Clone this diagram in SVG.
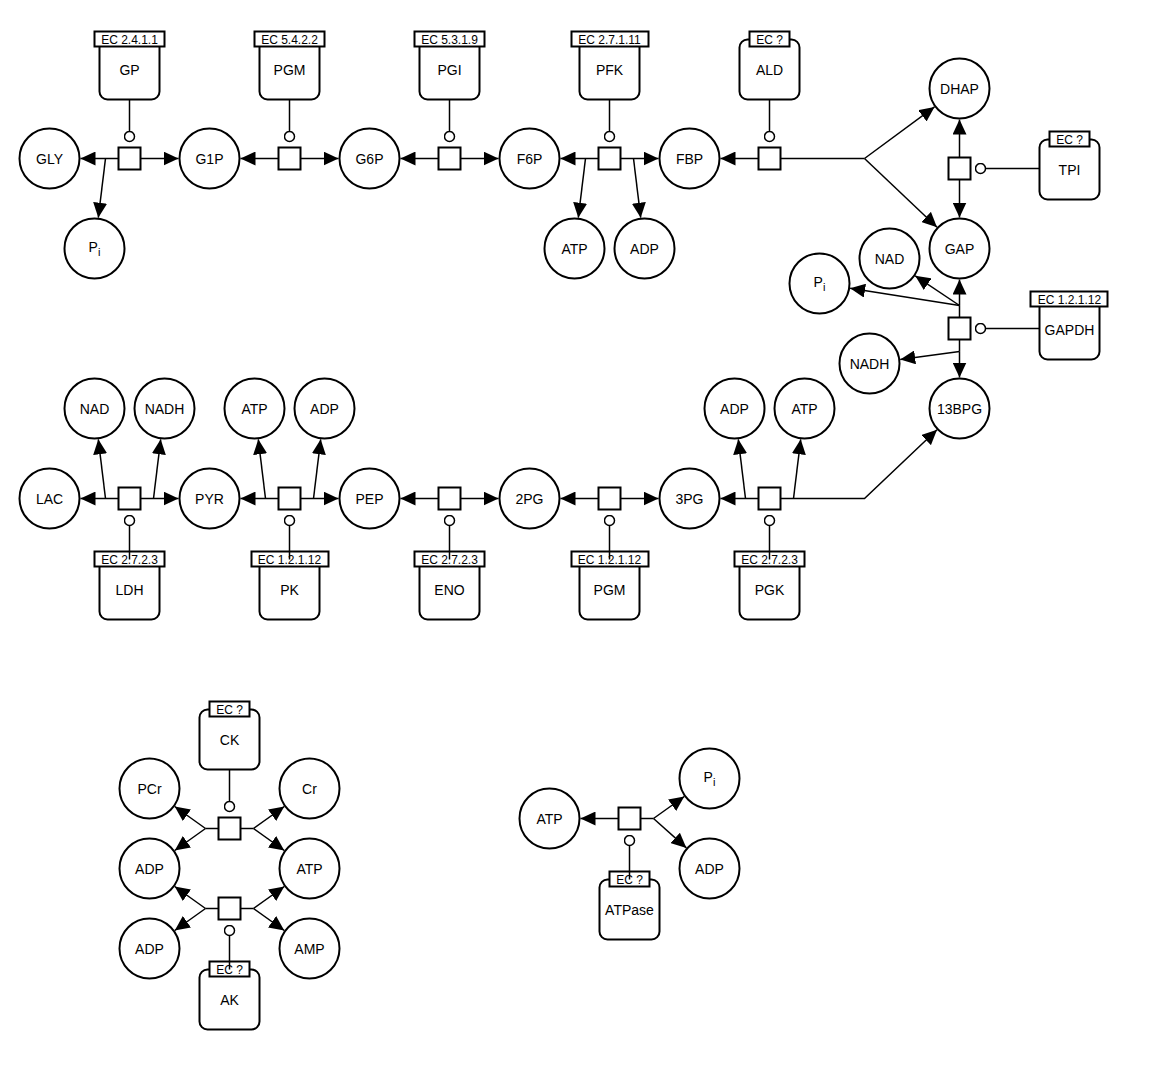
<svg xmlns="http://www.w3.org/2000/svg" width="1160" height="1083" viewBox="0 0 1160 1083">
<style>
.bg{fill:#fff}
.sp circle{fill:#fff;stroke:#000;stroke-width:2}
.mm .body{fill:#fff;stroke:#000;stroke-width:2}
.mm .lab{fill:#fff;stroke:#000;stroke-width:2}
.pr rect{fill:#fff;stroke:#000;stroke-width:2}
text{font-family:"Liberation Sans",Arial,sans-serif;fill:#000;text-anchor:middle}
.t{font-size:14px}
.e{font-size:12px}
.sub{font-size:11px}
#edges line,#edges polyline{stroke:#000;stroke-width:1.5;fill:none}
.a{marker-end:url(#arr)}
.k{marker-end:url(#cat)}
</style>
<defs>
<marker id="arr" viewBox="0 0 15 14" refX="15" refY="7" markerWidth="15" markerHeight="14" markerUnits="userSpaceOnUse" orient="auto"><path d="M0,0 L15,7 L0,14 z" fill="#000"/></marker>
<marker id="cat" viewBox="0 0 12 12" refX="0.5" refY="6" markerWidth="12" markerHeight="12" markerUnits="userSpaceOnUse" orient="auto"><circle cx="6" cy="6" r="5" fill="#fff" stroke="#000" stroke-width="1.5"/></marker>
</defs>
<rect class="bg" x="0" y="0" width="1160" height="1083"/>
<g transform="translate(0.5,0.5)">
<g id="nodes">
<g id="GLY" class="sp"><circle cx="49" cy="158" r="30"/><text class="t" x="49" y="163.5">GLY</text></g>
<g id="G1P" class="sp"><circle cx="209" cy="158" r="30"/><text class="t" x="209" y="163.5">G1P</text></g>
<g id="G6P" class="sp"><circle cx="369" cy="158" r="30"/><text class="t" x="369" y="163.5">G6P</text></g>
<g id="F6P" class="sp"><circle cx="529" cy="158" r="30"/><text class="t" x="529" y="163.5">F6P</text></g>
<g id="FBP" class="sp"><circle cx="689" cy="158" r="30"/><text class="t" x="689" y="163.5">FBP</text></g>
<g id="Pi_1" class="sp"><circle cx="94" cy="248" r="30"/><text class="t" x="94" y="251.5">P<tspan class="sub" dy="4">i</tspan></text></g>
<g id="ATP_1" class="sp"><circle cx="574" cy="248" r="30"/><text class="t" x="574" y="253.5">ATP</text></g>
<g id="ADP_1" class="sp"><circle cx="644" cy="248" r="30"/><text class="t" x="644" y="253.5">ADP</text></g>
<g id="DHAP" class="sp"><circle cx="959" cy="88" r="30"/><text class="t" x="959" y="93.5">DHAP</text></g>
<g id="GAP" class="sp"><circle cx="959" cy="248" r="30"/><text class="t" x="959" y="253.5">GAP</text></g>
<g id="NAD_1" class="sp"><circle cx="889" cy="258" r="30"/><text class="t" x="889" y="263.5">NAD</text></g>
<g id="Pi_2" class="sp"><circle cx="819" cy="283" r="30"/><text class="t" x="819" y="286.5">P<tspan class="sub" dy="4">i</tspan></text></g>
<g id="NADH_1" class="sp"><circle cx="869" cy="363" r="30"/><text class="t" x="869" y="368.5">NADH</text></g>
<g id="BPG13" class="sp"><circle cx="959" cy="408" r="30"/><text class="t" x="959" y="413.5">13BPG</text></g>

<g id="LAC" class="sp"><circle cx="49" cy="498" r="30"/><text class="t" x="49" y="503.5">LAC</text></g>
<g id="PYR" class="sp"><circle cx="209" cy="498" r="30"/><text class="t" x="209" y="503.5">PYR</text></g>
<g id="PEP" class="sp"><circle cx="369" cy="498" r="30"/><text class="t" x="369" y="503.5">PEP</text></g>
<g id="PG2" class="sp"><circle cx="529" cy="498" r="30"/><text class="t" x="529" y="503.5">2PG</text></g>
<g id="PG3" class="sp"><circle cx="689" cy="498" r="30"/><text class="t" x="689" y="503.5">3PG</text></g>
<g id="NAD_2" class="sp"><circle cx="94" cy="408" r="30"/><text class="t" x="94" y="413.5">NAD</text></g>
<g id="NADH_2" class="sp"><circle cx="164" cy="408" r="30"/><text class="t" x="164" y="413.5">NADH</text></g>
<g id="ATP_2" class="sp"><circle cx="254" cy="408" r="30"/><text class="t" x="254" y="413.5">ATP</text></g>
<g id="ADP_2" class="sp"><circle cx="324" cy="408" r="30"/><text class="t" x="324" y="413.5">ADP</text></g>
<g id="ADP_3" class="sp"><circle cx="734" cy="408" r="30"/><text class="t" x="734" y="413.5">ADP</text></g>
<g id="ATP_3" class="sp"><circle cx="804" cy="408" r="30"/><text class="t" x="804" y="413.5">ATP</text></g>

<g id="PCr" class="sp"><circle cx="149" cy="788" r="30"/><text class="t" x="149" y="793.5">PCr</text></g>
<g id="Cr" class="sp"><circle cx="309" cy="788" r="30"/><text class="t" x="309" y="793.5">Cr</text></g>
<g id="ADP_4" class="sp"><circle cx="149" cy="868" r="30"/><text class="t" x="149" y="873.5">ADP</text></g>
<g id="ATP_4" class="sp"><circle cx="309" cy="868" r="30"/><text class="t" x="309" y="873.5">ATP</text></g>
<g id="ADP_5" class="sp"><circle cx="149" cy="948" r="30"/><text class="t" x="149" y="953.5">ADP</text></g>
<g id="AMP" class="sp"><circle cx="309" cy="948" r="30"/><text class="t" x="309" y="953.5">AMP</text></g>

<g id="ATP_5" class="sp"><circle cx="549" cy="818" r="30"/><text class="t" x="549" y="823.5">ATP</text></g>
<g id="Pi_3" class="sp"><circle cx="709" cy="778" r="30"/><text class="t" x="709" y="781.5">P<tspan class="sub" dy="4">i</tspan></text></g>
<g id="ADP_6" class="sp"><circle cx="709" cy="868" r="30"/><text class="t" x="709" y="873.5">ADP</text></g>

<g id="GP" class="mm"><rect class="body" x="99" y="39" width="60" height="60" rx="8"/><rect class="lab" x="94" y="31" width="70" height="15"/><text class="e" x="129" y="43">EC 2.4.1.1</text><text class="t" x="129" y="74.5">GP</text></g>
<g id="PGM_1" class="mm"><rect class="body" x="259" y="39" width="60" height="60" rx="8"/><rect class="lab" x="254" y="31" width="70" height="15"/><text class="e" x="289" y="43">EC 5.4.2.2</text><text class="t" x="289" y="74.5">PGM</text></g>
<g id="PGI" class="mm"><rect class="body" x="419" y="39" width="60" height="60" rx="8"/><rect class="lab" x="414" y="31" width="70" height="15"/><text class="e" x="449" y="43">EC 5.3.1.9</text><text class="t" x="449" y="74.5">PGI</text></g>
<g id="PFK" class="mm"><rect class="body" x="579" y="39" width="60" height="60" rx="8"/><rect class="lab" x="571" y="31" width="77" height="15"/><text class="e" x="609" y="43">EC 2.7.1.11</text><text class="t" x="609" y="74.5">PFK</text></g>
<g id="ALD" class="mm"><rect class="body" x="739" y="39" width="60" height="60" rx="8"/><rect class="lab" x="749" y="31" width="40" height="15"/><text class="e" x="769" y="43">EC ?</text><text class="t" x="769" y="74.5">ALD</text></g>
<g id="TPI" class="mm"><rect class="body" x="1039" y="139" width="60" height="60" rx="8"/><rect class="lab" x="1049" y="131" width="40" height="15"/><text class="e" x="1069" y="143">EC ?</text><text class="t" x="1069" y="174.5">TPI</text></g>
<g id="GAPDH" class="mm"><rect class="body" x="1039" y="299" width="60" height="60" rx="8"/><rect class="lab" x="1030" y="291" width="77" height="15"/><text class="e" x="1069" y="303">EC 1.2.1.12</text><text class="t" x="1069" y="334.5">GAPDH</text></g>

<g id="LDH" class="mm"><rect class="body" x="99" y="559" width="60" height="60" rx="8"/><rect class="lab" x="94" y="551" width="70" height="15"/><text class="e" x="129" y="563">EC 2.7.2.3</text><text class="t" x="129" y="594.5">LDH</text></g>
<g id="PK" class="mm"><rect class="body" x="259" y="559" width="60" height="60" rx="8"/><rect class="lab" x="251" y="551" width="77" height="15"/><text class="e" x="289" y="563">EC 1.2.1.12</text><text class="t" x="289" y="594.5">PK</text></g>
<g id="ENO" class="mm"><rect class="body" x="419" y="559" width="60" height="60" rx="8"/><rect class="lab" x="414" y="551" width="70" height="15"/><text class="e" x="449" y="563">EC 2.7.2.3</text><text class="t" x="449" y="594.5">ENO</text></g>
<g id="PGM_2" class="mm"><rect class="body" x="579" y="559" width="60" height="60" rx="8"/><rect class="lab" x="571" y="551" width="77" height="15"/><text class="e" x="609" y="563">EC 1.2.1.12</text><text class="t" x="609" y="594.5">PGM</text></g>
<g id="PGK" class="mm"><rect class="body" x="739" y="559" width="60" height="60" rx="8"/><rect class="lab" x="734" y="551" width="70" height="15"/><text class="e" x="769" y="563">EC 2.7.2.3</text><text class="t" x="769" y="594.5">PGK</text></g>

<g id="CK" class="mm"><rect class="body" x="199" y="709" width="60" height="60" rx="8"/><rect class="lab" x="209" y="701" width="40" height="15"/><text class="e" x="229" y="713">EC ?</text><text class="t" x="229" y="744.5">CK</text></g>
<g id="AK" class="mm"><rect class="body" x="199" y="969" width="60" height="60" rx="8"/><rect class="lab" x="209" y="961" width="40" height="15"/><text class="e" x="229" y="973">EC ?</text><text class="t" x="229" y="1004.5">AK</text></g>
<g id="ATPase" class="mm"><rect class="body" x="599" y="879" width="60" height="60" rx="8"/><rect class="lab" x="609" y="871" width="40" height="15"/><text class="e" x="629" y="883">EC ?</text><text class="t" x="629" y="914.5">ATPase</text></g>

<g id="r_GP" class="pr"><rect x="118" y="147" width="22" height="22"/></g>
<g id="r_PGM1" class="pr"><rect x="278" y="147" width="22" height="22"/></g>
<g id="r_PGI" class="pr"><rect x="438" y="147" width="22" height="22"/></g>
<g id="r_PFK" class="pr"><rect x="598" y="147" width="22" height="22"/></g>
<g id="r_ALD" class="pr"><rect x="758" y="147" width="22" height="22"/></g>
<g id="r_TPI" class="pr"><rect x="948" y="157" width="22" height="22"/></g>
<g id="r_GAPDH" class="pr"><rect x="948" y="317" width="22" height="22"/></g>
<g id="r_LDH" class="pr"><rect x="118" y="487" width="22" height="22"/></g>
<g id="r_PK" class="pr"><rect x="278" y="487" width="22" height="22"/></g>
<g id="r_ENO" class="pr"><rect x="438" y="487" width="22" height="22"/></g>
<g id="r_PGM2" class="pr"><rect x="598" y="487" width="22" height="22"/></g>
<g id="r_PGK" class="pr"><rect x="758" y="487" width="22" height="22"/></g>
<g id="r_CK" class="pr"><rect x="218" y="817" width="22" height="22"/></g>
<g id="r_AK" class="pr"><rect x="218" y="897" width="22" height="22"/></g>
<g id="r_ATPase" class="pr"><rect x="618" y="807" width="22" height="22"/></g>
</g>

<g id="edges">
<line class="a" x1="118" y1="158" x2="80" y2="158"/>
<line class="a" x1="105" y1="158" x2="97.8" y2="217.2"/>
<line class="a" x1="140" y1="158" x2="178" y2="158"/>
<line class="k" x1="129" y1="99" x2="129" y2="130.5"/>
<line class="a" x1="278" y1="158" x2="240" y2="158"/>
<line class="a" x1="300" y1="158" x2="338" y2="158"/>
<line class="k" x1="289" y1="99" x2="289" y2="130.5"/>
<line class="a" x1="438" y1="158" x2="400" y2="158"/>
<line class="a" x1="460" y1="158" x2="498" y2="158"/>
<line class="k" x1="449" y1="99" x2="449" y2="130.5"/>
<line class="a" x1="598" y1="158" x2="560" y2="158"/>
<line class="a" x1="585" y1="158" x2="577.8" y2="217.2"/>
<line class="a" x1="620" y1="158" x2="658" y2="158"/>
<line class="a" x1="633" y1="158" x2="640.2" y2="217.2"/>
<line class="k" x1="609" y1="99" x2="609" y2="130.5"/>
<line class="a" x1="758" y1="158" x2="720" y2="158"/>
<polyline points="780,158 864,158"/>
<line class="a" x1="864" y1="158" x2="934" y2="106.4"/>
<line class="a" x1="864" y1="158" x2="936.5" y2="226.7"/>
<line class="k" x1="769" y1="99" x2="769" y2="130.5"/>
<line class="a" x1="959" y1="157" x2="959" y2="119"/>
<line class="a" x1="959" y1="179" x2="959" y2="217"/>
<line class="k" x1="1039" y1="168" x2="985.5" y2="168"/>
<line x1="959" y1="317" x2="959" y2="305"/>
<line class="a" x1="959" y1="305" x2="959" y2="279"/>
<line class="a" x1="959" y1="305" x2="914.7" y2="275.3"/>
<line class="a" x1="959" y1="305" x2="849.6" y2="287.8"/>
<line x1="959" y1="339" x2="959" y2="351"/>
<line class="a" x1="959" y1="351" x2="959" y2="377"/>
<line class="a" x1="959" y1="351" x2="899.7" y2="358.9"/>
<line class="k" x1="1039" y1="328" x2="985.5" y2="328"/>
<line class="a" x1="118" y1="498" x2="80" y2="498"/>
<line class="a" x1="105" y1="498" x2="97.8" y2="438.8"/>
<line class="a" x1="140" y1="498" x2="178" y2="498"/>
<line class="a" x1="153" y1="498" x2="160.2" y2="438.8"/>
<line class="k" x1="129" y1="559" x2="129" y2="525.5"/>
<line class="a" x1="278" y1="498" x2="240" y2="498"/>
<line class="a" x1="265" y1="498" x2="257.8" y2="438.8"/>
<line class="a" x1="300" y1="498" x2="338" y2="498"/>
<line class="a" x1="313" y1="498" x2="320.2" y2="438.8"/>
<line class="k" x1="289" y1="559" x2="289" y2="525.5"/>
<line class="a" x1="438" y1="498" x2="400" y2="498"/>
<line class="a" x1="460" y1="498" x2="498" y2="498"/>
<line class="k" x1="449" y1="559" x2="449" y2="525.5"/>
<line class="a" x1="598" y1="498" x2="560" y2="498"/>
<line class="a" x1="620" y1="498" x2="658" y2="498"/>
<line class="k" x1="609" y1="559" x2="609" y2="525.5"/>
<line class="a" x1="758" y1="498" x2="720" y2="498"/>
<line class="a" x1="745" y1="498" x2="737.8" y2="438.8"/>
<line class="a" x1="793" y1="498" x2="800.2" y2="438.8"/>
<polyline class="a" points="780,498 864,498 936.5,429.3"/>
<line class="k" x1="769" y1="559" x2="769" y2="525.5"/>
<line x1="218" y1="828" x2="205" y2="828"/>
<line class="a" x1="205" y1="828" x2="174.2" y2="806"/>
<line class="a" x1="205" y1="828" x2="174.2" y2="850"/>
<line x1="240" y1="828" x2="253" y2="828"/>
<line class="a" x1="253" y1="828" x2="283.8" y2="806"/>
<line class="a" x1="253" y1="828" x2="283.8" y2="850"/>
<line class="k" x1="229" y1="769" x2="229" y2="800.5"/>
<line x1="218" y1="908" x2="205" y2="908"/>
<line class="a" x1="205" y1="908" x2="174.2" y2="886"/>
<line class="a" x1="205" y1="908" x2="174.2" y2="930"/>
<line x1="240" y1="908" x2="253" y2="908"/>
<line class="a" x1="253" y1="908" x2="283.8" y2="886"/>
<line class="a" x1="253" y1="908" x2="283.8" y2="930"/>
<line class="k" x1="229" y1="969" x2="229" y2="935.5"/>
<line class="a" x1="618" y1="818" x2="580" y2="818"/>
<line x1="640" y1="818" x2="653" y2="818"/>
<line class="a" x1="653" y1="818" x2="683.8" y2="796"/>
<line class="a" x1="653" y1="818" x2="685.9" y2="847.4"/>
<line class="k" x1="629" y1="879" x2="629" y2="845.5"/>
</g>
</g>
</svg>
